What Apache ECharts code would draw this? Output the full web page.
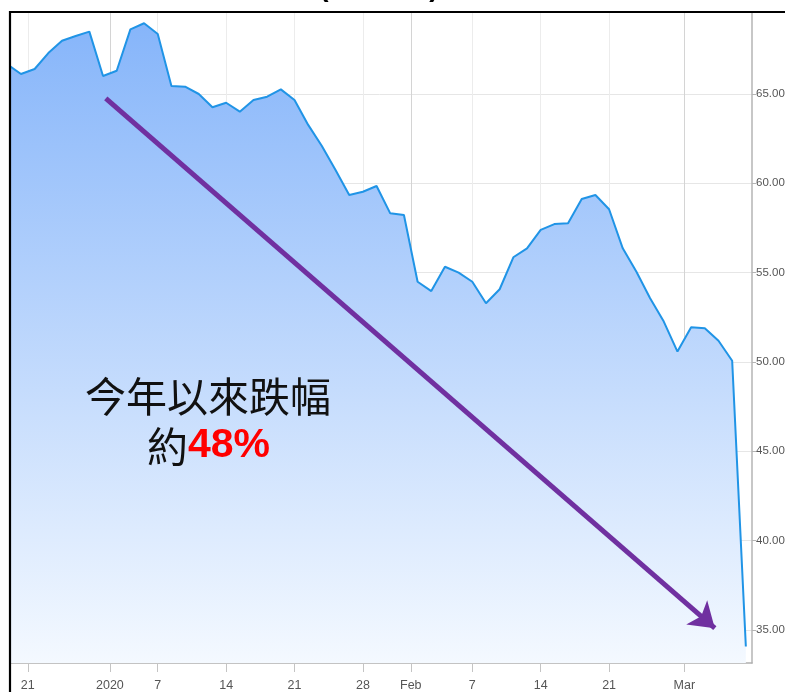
<!DOCTYPE html>
<html>
<head>
<meta charset="utf-8">
<script src="https://cdn.jsdelivr.net/npm/echarts@6/dist/echarts.min.js"></script>
<style>
  html, body { margin: 0; padding: 0; background: #fff; }
  #chart { width: 785px; height: 692px; }
</style>
</head>
<body>
<div id="chart"></div>
<script>
// Trading days shown on the chart (weekends and market holidays skipped)
const tradeDates = [
  '2019-12-19', '2019-12-20', '2019-12-23', '2019-12-24', '2019-12-26', '2019-12-27',
  '2019-12-30', '2019-12-31', '2020-01-02', '2020-01-03', '2020-01-06', '2020-01-07',
  '2020-01-08', '2020-01-09', '2020-01-10', '2020-01-13', '2020-01-14', '2020-01-15',
  '2020-01-16', '2020-01-17', '2020-01-20', '2020-01-21', '2020-01-22', '2020-01-23',
  '2020-01-24', '2020-01-27', '2020-01-28', '2020-01-29', '2020-01-30', '2020-01-31',
  '2020-02-03', '2020-02-04', '2020-02-05', '2020-02-06', '2020-02-07', '2020-02-10',
  '2020-02-11', '2020-02-12', '2020-02-13', '2020-02-14', '2020-02-17', '2020-02-18',
  '2020-02-19', '2020-02-20', '2020-02-21', '2020-02-24', '2020-02-25', '2020-02-26',
  '2020-02-27', '2020-02-28', '2020-03-02', '2020-03-03', '2020-03-04', '2020-03-05',
  '2020-03-06'
];

// Closing prices
const prices = [
  66.66, 66.12, 66.40, 67.29, 67.98, 68.25, 68.49, 66.01, 66.30, 68.62, 68.96,
  68.36, 65.45, 65.41, 65.00, 64.26, 64.51, 64.01, 64.66, 64.85, 65.26, 64.66,
  63.27, 62.09, 60.75, 59.35, 59.53, 59.85, 58.32, 58.23, 54.49, 53.97, 55.33,
  55.00, 54.49, 53.29, 54.07, 55.86, 56.36, 57.39, 57.72, 57.76, 59.12, 59.35,
  58.55, 56.36, 55.05, 53.57, 52.26, 50.58, 51.94, 51.89, 51.19, 50.07, 34.07
];

// Date ticks along the bottom
const tickDates = [
  '2019-12-21', '2020-01-01', '2020-01-07', '2020-01-14', '2020-01-21', '2020-01-28',
  '2020-02-01', '2020-02-07', '2020-02-14', '2020-02-21', '2020-03-01'
];
const tickLabels = ['21', '2020', '7', '14', '21', '28', 'Feb', '7', '14', '21', 'Mar'];

// Price ticks on the right
const priceTicks = [35, 40, 45, 50, 55, 60, 65];

// Trend arrow, in axis units (trading-day index, price)
const trendFrom = [7.2, 64.76];
const trendTo = [51.73, 35.1];

// A calendar date sits on its trading day, or halfway into the gap when the market was shut
function datePosition(d) {
  const k = tradeDates.findIndex(t => t >= d);
  return tradeDates[k] === d ? k : k - 0.5;
}
const tickPositions = tickDates.map(datePosition);
function labelFor(v) {
  const k = tickPositions.findIndex(p => Math.abs(p - v) < 1e-6);
  return k >= 0 ? tickLabels[k] : '';
}
// Month / year boundaries get a stronger grid line
const xGridColors = tickDates.map(d => d.endsWith('-01') ? '#d4d4d4' : '#ececec');

const axisFont = '"Liberation Sans", Arial, sans-serif';

const chart = echarts.init(document.getElementById('chart'), null, { renderer: 'canvas' });

chart.setOption({
  animation: false,
  backgroundColor: '#ffffff',
  grid: { left: 7.3, right: 33, top: 12, bottom: 29, containLabel: false, outerBoundsMode: 'none' },
  xAxis: {
    type: 'value',
    min: 0,
    max: 54.45,
    axisLine: { show: true, onZero: false, lineStyle: { color: '#b0b0b0', width: 1.5 } },
    axisTick: { show: true, customValues: tickPositions, length: 9, lineStyle: { color: '#c4c4c4' } },
    axisLabel: {
      customValues: tickPositions,
      formatter: v => labelFor(v),
      margin: 16,
      color: '#555555',
      fontSize: 12.5,
      fontFamily: axisFont
    },
    splitLine: { show: true, lineStyle: { color: xGridColors, width: 1 } }
  },
  yAxis: {
    type: 'value',
    position: 'right',
    min: 33.15,
    max: 69.59,
    axisLine: { show: true, onZero: false, lineStyle: { color: '#b4b4b4', width: 1.5 } },
    axisTick: { show: true, customValues: priceTicks, length: 4, lineStyle: { color: '#b4b4b4' } },
    axisLabel: {
      customValues: priceTicks,
      formatter: v => v.toFixed(2),
      margin: 4,
      color: '#555555',
      fontSize: 11.5,
      fontFamily: axisFont
    },
    splitLine: { show: true, lineStyle: { color: '#e6e6e6', width: 1 } }
  },
  series: [{
    type: 'line',
    data: prices.map((v, i) => [i, v]),
    symbol: 'none',
    lineStyle: { color: '#2094e6', width: 2 },
    areaStyle: {
      origin: 'start',
      opacity: 1,
      color: new echarts.graphic.LinearGradient(0, 0, 0, 1, [
        { offset: 0, color: '#86b5fa' },
        { offset: 1, color: '#f4f9ff' }
      ])
    },
    markLine: {
      silent: true,
      symbol: ['none', 'arrow'],
      symbolSize: 24,
      label: { show: false },
      emphasis: { disabled: true },
      lineStyle: { color: '#7030a0', width: 5, type: 'solid' },
      data: [[{ coord: trendFrom }, { coord: trendTo }]]
    }
  }],
  graphic: [
    { type: 'rect', z: 100, silent: true, shape: { x: 0, y: 0, width: 9, height: 692 }, style: { fill: '#fff' } },
    { type: 'rect', z: 100, silent: true, shape: { x: 0, y: 0, width: 785, height: 11 }, style: { fill: '#fff' } },
    { type: 'rect', z: 101, silent: true, shape: { x: 10, y: 12, width: 800, height: 700 },
      style: { fill: 'none', stroke: '#000', lineWidth: 2.2 } },
    { type: 'text', z: 102, silent: true, x: 324, y: -12,
      style: { text: '(', font: 'bold 28px "Liberation Sans"', fill: '#000', align: 'center', verticalAlign: 'middle' } },
    { type: 'text', z: 102, silent: true, x: 434, y: -12,
      style: { text: ')', font: 'bold 28px "Liberation Sans"', fill: '#000', align: 'center', verticalAlign: 'middle' } },
    { type: 'text', z: 102, silent: true, x: 208, y: 396,
      style: { text: '今年以來跌幅', font: '41px "Noto Sans CJK TC"', fill: '#111', align: 'center', verticalAlign: 'middle' } },
    { type: 'text', z: 102, silent: true, x: 208.5, y: 446,
      style: {
        text: '{a|約}{b|48%}',
        align: 'center',
        verticalAlign: 'middle',
        rich: {
          a: { fontSize: 41, fontFamily: 'Noto Sans CJK TC', fill: '#111' },
          b: { fontSize: 41, fontFamily: '"Liberation Sans", Arial, sans-serif', fontWeight: 'bold', fill: '#ff0000' }
        }
      } }
  ]
});
</script>
</body>
</html>
